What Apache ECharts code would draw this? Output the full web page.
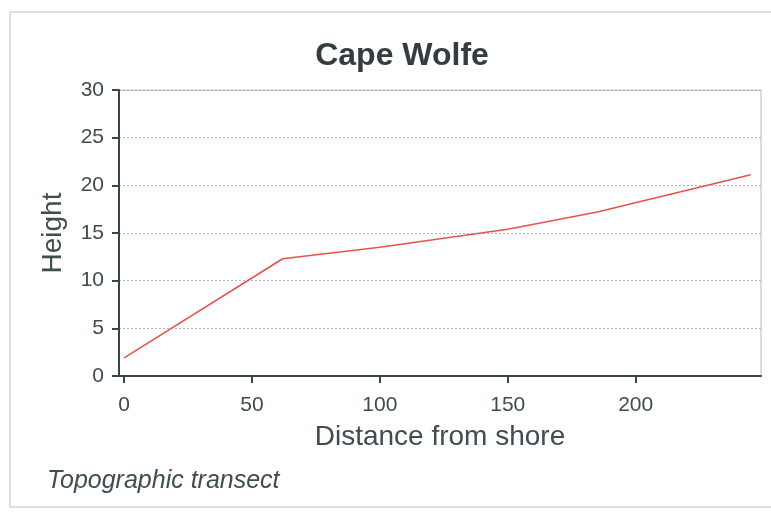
<!DOCTYPE html>
<html><head><meta charset="utf-8">
<script src="https://cdn.jsdelivr.net/npm/echarts@6/dist/echarts.min.js"></script>
<style>html,body{margin:0;padding:0;background:#fff}#c{width:771px;height:512px}</style>
</head><body><div id="c"></div>
<script>
const distance = [0, 62, 100, 150, 185, 245];
const height = [1.9, 12.3, 13.5, 15.4, 17.2, 21.1];
const xTicks = [0, 50, 100, 150, 200];
const yTicks = [0, 5, 10, 15, 20, 25, 30];
const titleText = 'Cape Wolfe';
const xName = 'Distance from shore';
const yName = 'Height';
const caption = 'Topographic transect';

const txt = '#3f4d4f';
const ff = 'Liberation Sans, Arial';
const chart = echarts.init(document.getElementById('c'), null, {renderer: 'canvas'});
chart.setOption({
  animation: false,
  title: {text: titleText, left: 397, top: 35, textAlign: 'center',
    textStyle: {fontFamily: ff, fontSize: 32, fontWeight: 'bold', color: '#333d40'}},
  graphic: [
    {type: 'rect', shape: {x: 10, y: 12, width: 780, height: 495}, style: {fill: 'none', stroke: '#d4d4d4', lineWidth: 1.5}},
    {type: 'text', left: 47, top: 469, style: {text: caption, font: 'italic 25px Liberation Sans, Arial', fill: txt}}
  ],
  grid: {left: 119, right: 10, top: 90, bottom: 136, show: true, borderColor: '#b8b8b8', borderWidth: 1},
  xAxis: {type: 'value', min: -2, max: 249,
    name: xName, nameLocation: 'middle', nameGap: 47,
    nameTextStyle: {fontFamily: ff, fontSize: 28, color: txt},
    axisLine: {show: true, onZero: false, lineStyle: {color: '#3a4547', width: 2}},
    axisTick: {show: true, customValues: xTicks, length: 7, lineStyle: {color: '#3a4547', width: 2}},
    axisLabel: {customValues: xTicks, margin: 19, fontFamily: ff, fontSize: 21, color: txt},
    splitLine: {show: false}},
  yAxis: {type: 'value', min: 0, max: 30, interval: 5,
    name: yName, nameLocation: 'middle', nameGap: 52,
    nameTextStyle: {fontFamily: ff, fontSize: 28, color: txt},
    axisLine: {show: true, onZero: false, lineStyle: {color: '#3a4547', width: 2}},
    axisTick: {show: true, length: 7, lineStyle: {color: '#3a4547', width: 2}},
    axisLabel: {customValues: yTicks, margin: 15, fontFamily: ff, fontSize: 21, color: txt},
    splitLine: {show: true, lineStyle: {color: '#b5b5b5', type: [2, 2], width: 1}}},
  series: [{type: 'line', data: distance.map((d, i) => [d, height[i]]),
    symbol: 'none', lineStyle: {color: '#e8524c', width: 1.6}}]
});
</script></body></html>
